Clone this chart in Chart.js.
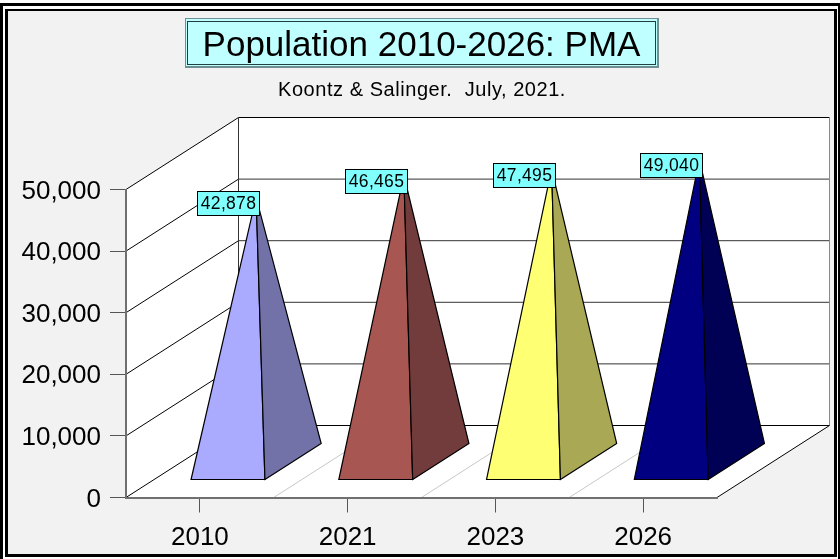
<!DOCTYPE html>
<html>
<head>
<meta charset="utf-8">
<title>Population 2010-2026: PMA</title>
<script src="https://cdn.jsdelivr.net/npm/chart.js@4"></script>
<style>
  html, body { margin: 0; padding: 0; background: #fff; }
  canvas { display: block; }
</style>
</head>
<body>
<canvas id="popChart" width="840" height="559"></canvas>
<script>
const categories = ['2010', '2021', '2023', '2026'];
const population = [42878, 46465, 47495, 49040];
const yTicks = [0, 10000, 20000, 30000, 40000, 50000];
const frontColors = ['#aaaaff', '#a85652', '#ffff73', '#000080'];
const sideColors = ['#7272a8', '#723c3c', '#a8a855', '#000055'];

const titleText = 'Population 2010-2026: PMA';
const subtitleText = 'Koontz & Salinger.  July, 2021.';

// how far the back wall sits from the front axis
const depthX = 112.5;
const depthY = 72;
const FONT = '"Liberation Sans", Arial, sans-serif';

function poly(ctx, pts, fill, stroke) {
    ctx.beginPath();
    pts.forEach((p, i) => i ? ctx.lineTo(p[0], p[1]) : ctx.moveTo(p[0], p[1]));
    ctx.closePath();
    if (fill) { ctx.fillStyle = fill; ctx.fill(); }
    if (stroke) { ctx.strokeStyle = stroke; ctx.lineWidth = 1.2; ctx.stroke(); }
}

function line(ctx, x1, y1, x2, y2, color) {
    ctx.beginPath();
    ctx.moveTo(x1, y1);
    ctx.lineTo(x2, y2);
    ctx.strokeStyle = color;
    ctx.lineWidth = 1;
    ctx.stroke();
}

const scene = {
    id: 'scene',
    beforeDraw(chart) {
        const ctx = chart.ctx;
        const W = chart.width, H = chart.height;
        ctx.save();
        ctx.fillStyle = '#fff';
        ctx.fillRect(0, 0, W, H);
        // double frame
        ctx.fillStyle = '#000';
        ctx.fillRect(0, 3, W, 3);
        ctx.fillRect(0, 3, 3, H - 3);
        ctx.fillRect(838, 3, 2, H - 3);
        ctx.fillStyle = '#f2f2f2';
        ctx.fillRect(8, 11, 826, 543);
        ctx.fillStyle = '#000';
        ctx.fillRect(5, 9, 832, 2);
        ctx.fillRect(5, 9, 3, 548);
        ctx.fillRect(834, 9, 3, 548);
        ctx.fillRect(5, 554, 832, 3);

        // title box
        ctx.fillStyle = '#6f9090';
        ctx.fillRect(185, 18, 474, 50);
        ctx.fillStyle = '#bfffff';
        ctx.fillRect(186, 19, 471, 47);
        ctx.strokeStyle = '#204040';
        ctx.lineWidth = 1;
        ctx.strokeRect(187.5, 21.5, 468, 43);
        ctx.fillStyle = '#000';
        ctx.textBaseline = 'alphabetic';
        ctx.textAlign = 'center';
        ctx.font = '35px ' + FONT;
        ctx.fillText(titleText, 421.5, 56);
        ctx.font = '20px ' + FONT;
        ctx.letterSpacing = '0.55px';
        ctx.fillText(subtitleText, 422, 96);
        ctx.letterSpacing = '0px';

        // floor and walls
        const xs = chart.scales.x, ys = chart.scales.y;
        const l = xs.left, r = xs.right;
        const y0 = ys.getPixelForValue(0), yMax = ys.getPixelForValue(50000);
        const bl = l + depthX, br = r + depthX;
        poly(ctx, [[l, yMax], [bl, yMax - depthY], [br, yMax - depthY], [br, y0 - depthY], [r, y0], [l, y0]], '#fff');

        // category dividers on the floor
        const band = (r - l) / categories.length;
        for (let i = 1; i < categories.length; i++) {
            line(ctx, l + band * i, y0, l + band * i + depthX, y0 - depthY, '#c8c8c8');
        }
        yTicks.forEach(v => {
            const py = ys.getPixelForValue(v);
            line(ctx, l, py, bl, py - depthY, '#000');
            line(ctx, bl, py - depthY, br, py - depthY, v === 0 || v === 50000 ? '#000' : '#333');
        });
        line(ctx, bl, yMax - depthY, bl, y0 - depthY, '#333');
        line(ctx, br, yMax - depthY, br, y0 - depthY, '#888');
        line(ctx, r, y0, br, y0 - depthY, '#000');

        // y tick labels sit a little under their ticks, so they are placed by hand
        ctx.fillStyle = '#000';
        ctx.font = '26px ' + FONT;
        ctx.textAlign = 'right';
        ctx.textBaseline = 'middle';
        ys.ticks.forEach(t => {
            ctx.fillText(t.value.toLocaleString('en-US'), 101, ys.getPixelForValue(t.value) + 2);
        });
        ctx.restore();
    },
    afterDatasetsDraw(chart) {
        const ctx = chart.ctx;
        const ys = chart.scales.y;
        const y0 = ys.getPixelForValue(0);
        const bars = chart.getDatasetMeta(0).data;
        ctx.save();
        // pyramids sit between 1/4 and 3/4 of the depth, apex over the middle
        bars.forEach((bar, i) => {
            const half = bar.width / 2;
            const fx = bar.x + depthX * 0.25, fy = y0 - depthY * 0.25;
            const bx = bar.x + depthX * 0.75, by = y0 - depthY * 0.75;
            const apex = [bar.x + depthX * 0.5, bar.y - depthY * 0.5];
            poly(ctx, [[fx - half, fy], [fx + half, fy], apex], frontColors[i], '#000');
            poly(ctx, [[fx + half, fy], [bx + half, by], apex], sideColors[i], '#000');
        });
        // value labels
        ctx.font = '17.5px ' + FONT;
        ctx.letterSpacing = '0.3px';
        ctx.textAlign = 'center';
        ctx.textBaseline = 'middle';
        bars.forEach((bar, i) => {
            const ax = bar.x + depthX * 0.5;
            const ay = bar.y - depthY * 0.5;
            const bw = 62, bh = 24;
            const lx = Math.round(ax + 3 - bw) + 0.5;
            const ly = Math.round(ay - 6) + 0.5;
            ctx.fillStyle = '#80ffff';
            ctx.fillRect(lx, ly, bw, bh);
            ctx.strokeStyle = '#000';
            ctx.lineWidth = 1;
            ctx.strokeRect(lx, ly, bw, bh);
            ctx.fillStyle = '#000';
            ctx.fillText(population[i].toLocaleString('en-US'), lx + bw / 2, ly + bh / 2 + 1);
        });
        ctx.letterSpacing = '0px';
        ctx.restore();
    }
};

new Chart(document.getElementById('popChart'), {
    type: 'bar',
    data: {
        labels: categories,
        datasets: [{
            data: population,
            backgroundColor: 'rgba(0,0,0,0)',
            categoryPercentage: 0.5,
            barPercentage: 1
        }]
    },
    options: {
        responsive: false,
        animation: false,
        layout: { padding: { top: 189.5, right: 123, left: 0, bottom: 0 } },
        plugins: {
            legend: { display: false },
            tooltip: { enabled: false }
        },
        scales: {
            x: {
                afterFit(s) { s.height = 61.5; },
                grid: { offset: false, drawOnChartArea: false, color: '#555', tickLength: 15 },
                border: { color: '#707070', width: 2 },
                ticks: { color: '#000', font: { family: FONT, size: 26 }, padding: 10, maxRotation: 0 }
            },
            y: {
                min: 0,
                max: 50000,
                afterFit(s) { s.width = 126; },
                afterBuildTicks(s) { s.ticks = yTicks.map(v => ({ value: v })); },
                grid: { drawOnChartArea: false, color: '#555', tickLength: 16 },
                border: { color: '#707070', width: 2 },
                ticks: { display: false }
            }
        }
    },
    plugins: [scene]
});
</script>
</body>
</html>
